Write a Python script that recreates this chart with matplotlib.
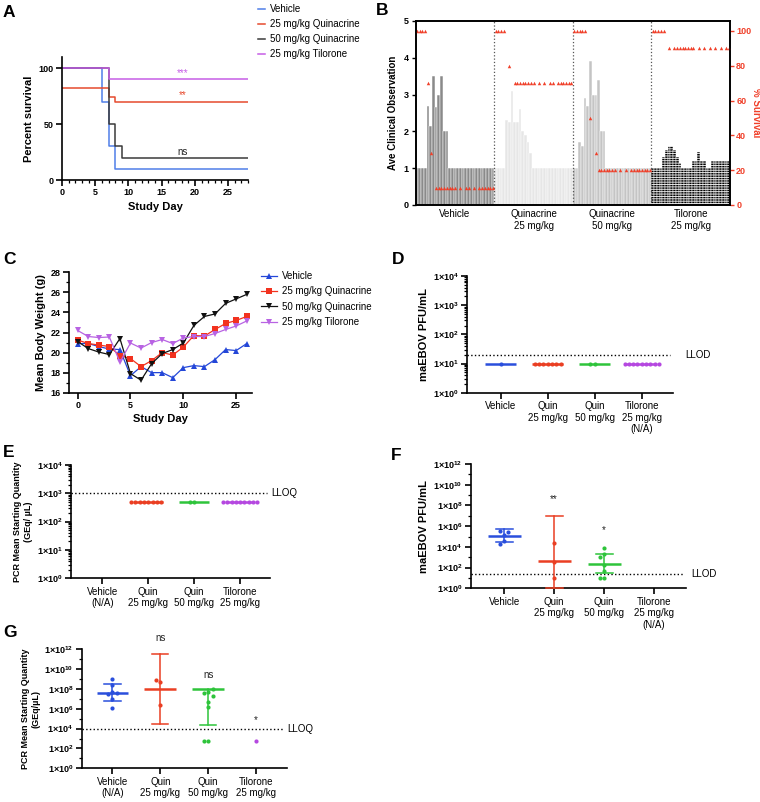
import numpy as np
import matplotlib
matplotlib.use("Agg")
import matplotlib.pyplot as plt
from matplotlib.ticker import MultipleLocator, FixedLocator, FuncFormatter, NullFormatter, LogLocator

nan = np.nan

plt.rcParams["font.family"] = ["Liberation Sans", "DejaVu Sans"]
plt.rcParams["mathtext.default"] = "regular"
plt.rcParams["axes.linewidth"] = 1.2
plt.rcParams["hatch.linewidth"] = 0.6

# ---------------- data ----------------
# A: Kaplan-Meier survival
a_groups = ["Vehicle", "25 mg/kg Quinacrine", "50 mg/kg Quinacrine", "25 mg/kg Tilorone"]
a_days = [[0, 6, 7, 8, 28], [0, 7, 8, 28], [0, 7, 8, 9, 28], [0, 7, 28]]
a_surv = [[100, 70, 30, 10, 10], [82, 74, 70, 70], [100, 50, 30, 20, 20], [100, 90, 90]]
a_marks = ["", "**", "ns", "***"]
a_mark_y = [nan, 76, 25, 96]

# B: clinical observation score (bars) and % survival (triangles), days 0-28
b_groups = ["Vehicle", "Quinacrine\n25 mg/kg", "Quinacrine\n50 mg/kg", "Tilorone\n25 mg/kg"]
b_clin_vehicle = [1, 1, 1, 1, 2.7, 2.15, 3.5, 2.65, 3.0, 3.5, 2.0, 2.0, 1, 1, 1, 1, 1, 1, 1, 1,
                  1, 1, 1, 1, 1, 1, 1, 1, 1]
b_clin_quin25 = [1, 1, 1, 1, 2.3, 2.25, 3.1, 2.25, 2.25, 2.6, 2.0, 1.9, 1.7, 1.4, 1, 1, 1, 1, 1, 1,
                 1, 1, 1, 1, 1, 1, 1, 1, 1]
b_clin_quin50 = [1, 1, 1.7, 1.6, 2.9, 2.7, 3.9, 3.0, 3.0, 3.4, 2.0, 2.0, 1, 1, 1, 1, 1, 1, 1, 1,
                 1, 1, 1, 1, 1, 1, 1, 1, 1]
b_clin_tilorone = [1, 1, 1, 1, 1.3, 1.5, 1.6, 1.6, 1.5, 1.3, 1.15, 1.0, 1.0, 1.0, 1.0, 1.2, 1.2,
                   1.45, 1.2, 1.2, 1.0, 1.0, 1.2, 1.2, 1.2, 1.2, 1.2, 1.2, 1.2]
b_surv_vehicle = [100, 100, 100, 100, 70, 30, nan, 10, 10, 10, 10, 10, 10, 10, 10, nan, 10, nan,
                  10, 10, nan, 10, nan, 10, 10, 10, 10, 10, 10]
b_surv_quin25 = [100, 100, 100, 100, nan, 80, nan, 70, 70, 70, 70, 70, 70, 70, 70, nan, 70, nan,
                 70, nan, 70, 70, nan, 70, 70, 70, 70, 70, 70]
b_surv_quin50 = [100, 100, 100, 100, 100, nan, 50, nan, 30, 20, 20, 20, 20, 20, 20, 20, nan, 20,
                 nan, 20, nan, 20, 20, 20, 20, 20, 20, 20, 20]
b_surv_tilorone = [100, 100, 100, 100, 100, nan, 90, nan, 90, 90, 90, 90, 90, 90, 90, 90, nan, 90,
                   nan, 90, nan, 90, nan, 90, nan, 90, nan, 90, 90]

# C: mean body weight
c_index = list(range(17))
c_tick_pos = [0, 5, 10, 15]
c_tick_labels = ["0", "5", "10", "25"]
c_vehicle = [20.9, 20.9, 20.6, 20.35, 20.3, 17.7, 18.6, 18.0, 18.0, 17.5, 18.5, 18.7, 18.6, 19.3,
             20.3, 20.2, 20.9]
c_quin25 = [21.25, 20.9, 20.75, 20.6, 19.7, 19.4, 18.6, 19.2, 20.0, 19.75, 20.55, 21.7, 21.65,
            22.3, 22.9, 23.2, 23.6]
c_quin50 = [21.1, 20.4, 20.05, 19.8, 21.4, 17.9, 17.25, 18.9, 19.9, 20.3, 20.95, 22.7, 23.6,
            23.85, 24.9, 25.35, 25.8]
c_tilorone = [22.2, 21.6, 21.5, 21.55, 19.05, 20.95, 20.45, 21.0, 21.3, 20.9, 21.45, 21.6, 21.6,
              21.9, 22.3, 22.65, 23.15]

# D: survivor plaque assay
d_labels = ["Vehicle", "Quin\n25 mg/kg", "Quin\n50 mg/kg", "Tilorone\n25 mg/kg\n(N/A)"]
d_vals = [[10], [10, 10, 10, 10, 10, 10, 10], [10, 10], [10, 10, 10, 10, 10, 10, 10, 10, 10]]
d_mean = [10, 10, 10, 10]
d_llod = 20

# E: survivor PCR
e_labels = ["Vehicle\n(N/A)", "Quin\n25 mg/kg", "Quin\n50 mg/kg", "Tilorone\n25 mg/kg"]
e_vals = [[], [500, 500, 500, 500, 500, 500, 500, 500], [500, 500],
          [500, 500, 500, 500, 500, 500, 500, 500, 500]]
e_mean = [nan, 500, 500, 500]
e_lloq = 1000

# F: plaque assay, moribund animals
f_labels = d_labels
f_vals = [[1.4e5, 3.4e5, 2.5e5, 4.0e4, 1.9e4], [2.5e4, 3.2e2, 9.0],
          [7.2e3, 1.9e3, 1.1e3, 1.8e2, 4.7e1, 9.3, 9.3], []]
f_mean = [1.1e5, 4.3e2, 2.4e2, nan]
f_low = [3.2e4, 1.0, 32, nan]
f_high = [4.9e5, 9.5e6, 2.0e3, nan]
f_llod = 22
f_marks = ["", "**", "*", ""]
f_mark_y = [nan, 4e8, 4.3e5, nan]

# G: PCR, moribund animals
g_labels = e_labels
g_vals = [[9.3e8, 2.5e8, 5.2e7, 3.1e7, 4.2e7, 9.8e6, 1.3e6], [4.7e8, 7.4e8, 2.2e6],
          [4.6e7, 4.3e7, 1.0e8, 1.9e7, 5.2e6, 1.5e6, 6.2e2, 6.2e2], [6.2e2]]
g_mean = [4.2e7, 9.3e7, 9.3e7, nan]
g_low = [5.8e6, 3.0e4, 2.3e4, nan]
g_high = [3.0e8, 3.2e11, 9.3e7, nan]
g_lloq = 8.5e3
g_marks = ["", "ns", "ns", "*"]
g_mark_y = [nan, 1.3e13, 2.5e9, 7.4e4]

# ---------------- styling ----------------
W, H = 760, 802
fig = plt.figure(figsize=(W / 100, H / 100), dpi=100)


def box(x0, y0, x1, y1):
    return [x0 / W, 1 - y1 / H, (x1 - x0) / W, (y1 - y0) / H]


def prism(ax):
    ax.spines["top"].set_visible(False)
    ax.spines["right"].set_visible(False)
    ax.tick_params(which="major", length=4, width=1.2, labelsize=6.5, pad=2)
    ax.tick_params(which="minor", length=2, width=0.9)
    for lab in ax.get_yticklabels() + ax.get_xticklabels():
        lab.set_fontweight("bold")


bold = dict(fontweight="bold")

# ---------------- A ----------------
a_colors = ["#4f7ee8", "#e64a2e", "#3a3a3a", "#c65ee6"]
axA = fig.add_axes(box(62, 57, 248, 180))
handles = []
for t, s, c, lab in zip(a_days, a_surv, a_colors, a_groups):
    h, = axA.step(t, s, where="post", color=c, lw=1.1, label=lab)
    handles.append(h)
for i, (m, y) in enumerate(zip(a_marks, a_mark_y)):
    if m:
        axA.text(18.2, y, m, color=a_colors[i] if m != "ns" else "#222", fontsize=7,
                 ha="center", va="center")
axA.set_xlim(0, 28)
axA.set_ylim(0, 110)
axA.xaxis.set_major_locator(MultipleLocator(5))
axA.xaxis.set_minor_locator(MultipleLocator(1))
axA.set_yticks([0, 50, 100])
prism(axA)
axA.set_xlabel("Study Day", fontsize=8, labelpad=3, **bold)
axA.set_ylabel("Percent survival", fontsize=8, labelpad=3, **bold)
axA.legend(handles=handles, loc="upper left", bbox_to_anchor=(258 / W, 1 - 4 / H),
           bbox_transform=fig.transFigure, frameon=False, fontsize=7, handlelength=0.7,
           handletextpad=0.5, labelspacing=0.52, borderpad=0, borderaxespad=0)

# ---------------- B ----------------
axB = fig.add_axes(box(415.7, 21, 730, 205))
axB2 = axB.twinx()
b_clin = [b_clin_vehicle, b_clin_quin25, b_clin_quin50, b_clin_tilorone]
b_surv = [b_surv_vehicle, b_surv_quin25, b_surv_quin50, b_surv_tilorone]
b_face = ["#8a8a8a", "#e6e6e6", "#c4c4c4", "black"]
b_hatch = [None, None, None, "-------"]
surv_red = "#f0402a"
n = len(b_clin_vehicle)
days = np.arange(n)
for g in range(4):
    axB.bar(g * n + days, b_clin[g], width=1.0, color=b_face[g], edgecolor="white",
            linewidth=0.35, hatch=b_hatch[g])
    axB2.plot(g * n + days, b_surv[g], "^", color=surv_red, ms=2.5, mew=0)
    if g > 0:
        axB.axvline(g * n - 0.5, color="#555555", ls=":", lw=0.9)
axB.set_xlim(-0.5, 4 * n - 0.5)
axB.set_ylim(0, 5)
axB2.set_ylim(0, 105.7)
axB.set_xticks([g * n + (n - 1) / 2 for g in range(4)])
axB.set_xticklabels(b_groups, fontsize=7)
axB.tick_params(axis="x", length=0, pad=3)
axB.tick_params(axis="y", length=3, width=1.0, labelsize=6.5, pad=2)
for lab in axB.get_yticklabels():
    lab.set_fontweight("bold")
axB2.set_yticks([0, 20, 40, 60, 80, 100])
axB2.tick_params(axis="y", length=3, width=1.0, colors=surv_red, labelsize=6.5, pad=1.5)
for lab in axB2.get_yticklabels():
    lab.set_fontweight("bold")
axB.set_ylabel("Ave Clinical Observation", fontsize=7, labelpad=4, **bold)
axB2.set_ylabel("% Survival", fontsize=7, color=surv_red, rotation=270, labelpad=7, **bold)

# ---------------- C ----------------
axC = fig.add_axes(box(69, 272.3, 251.7, 392.7))
c_series = [c_vehicle, c_quin25, c_quin50, c_tilorone]
c_colors = ["#2447d8", "#f2321f", "#111111", "#b863e3"]
c_markers = ["^", "s", "v", "v"]
c_ms = [3.8, 4.2, 3.8, 3.8]
ch = []
for ys, c, mk, ms, lab in zip(c_series, c_colors, c_markers, c_ms, a_groups):
    h, = axC.plot(c_index, ys, color=c, marker=mk, ms=ms, lw=0.9, mew=0, label=lab)
    ch.append(h)
axC.set_xlim(-0.82, 16.47)
axC.set_ylim(16, 28)
axC.set_xticks(c_tick_pos)
axC.set_xticklabels(c_tick_labels)
axC.yaxis.set_major_locator(MultipleLocator(2))
axC.yaxis.set_minor_locator(MultipleLocator(1))
prism(axC)
axC.set_xlabel("Study Day", fontsize=8, labelpad=3, **bold)
axC.set_ylabel("Mean Body Weight (g)", fontsize=8, labelpad=3, **bold)
axC.legend(handles=ch, loc="upper left", bbox_to_anchor=(261 / W, 1 - 271 / H),
           bbox_transform=fig.transFigure, frameon=False, fontsize=7, handlelength=1.6,
           handletextpad=0.6, labelspacing=0.55, borderpad=0, borderaxespad=0)

# ---------------- D-G dot plots ----------------
dot_colors = ["#2a4fdc", "#ea3f23", "#2ec43b", "#b548e0"]


def swarm(vals, ppd, upu, step=4.3, gap=4.0):
    ys = np.log10(np.asarray(vals, float)) * ppd
    placed, offs = [], []
    for y in ys:
        for k in [0, -1, 1, -2, 2, -3, 3, -4, 4, -5, 5]:
            x = k * step
            if all((x - px) ** 2 + (y - py) ** 2 >= gap ** 2 for px, py in placed):
                break
        placed.append((x, y))
        offs.append(x / upu)
    return np.array(offs)


def sci(v, pos):
    return "1×10$^{%d}$" % int(round(np.log10(v)))


def dot_panel(rect, top_exp, xlim, vals, means, lows, highs, labels, line_val, line_txt,
              txt_x, ylabel, ylab_size, every2):
    ax = fig.add_axes(box(*rect))
    ax.set_yscale("log")
    ax.set_ylim(1, 10 ** top_exp)
    ax.set_xlim(*xlim)
    ppd = (rect[3] - rect[1]) / top_exp
    upu = (rect[2] - rect[0]) / (xlim[1] - xlim[0])
    for i, c in enumerate(dot_colors):
        if len(vals[i]):
            ax.plot(i + swarm(vals[i], ppd, upu), vals[i], "o", color=c, ms=3, mew=0,
                    zorder=4, clip_on=False)
        if not np.isnan(means[i]):
            ax.plot([i - 0.33, i + 0.33], [means[i], means[i]], color=c, lw=1.8,
                    solid_capstyle="butt", zorder=3)
        if lows is not None and not np.isnan(lows[i]):
            ax.plot([i, i], [lows[i], highs[i]], color=c, lw=1.1, zorder=3, clip_on=False)
            for e in (lows[i], highs[i]):
                if e != means[i]:
                    ax.plot([i - 0.17, i + 0.17], [e, e], color=c, lw=1.1, zorder=3,
                            clip_on=False)
    ax.axhline(line_val, xmax=0.985, color="black", ls=":", lw=1.0)
    ax.text(txt_x, line_val, line_txt, transform=ax.get_yaxis_transform(), fontsize=7,
            ha="left", va="center")
    ax.set_xticks(range(4))
    ax.set_xticklabels(labels, fontsize=7)
    if every2:
        ax.yaxis.set_major_locator(FixedLocator([10.0 ** k for k in range(0, top_exp + 1, 2)]))
        ax.yaxis.set_minor_locator(FixedLocator([10.0 ** k for k in range(1, top_exp, 2)]))
    else:
        ax.yaxis.set_major_locator(LogLocator(base=10, numticks=20))
        ax.yaxis.set_minor_locator(LogLocator(base=10, subs=np.arange(2, 10), numticks=20))
    ax.yaxis.set_major_formatter(FuncFormatter(sci))
    ax.yaxis.set_minor_formatter(NullFormatter())
    ax.spines["top"].set_visible(False)
    ax.spines["right"].set_visible(False)
    ax.tick_params(which="major", length=4, width=1.2, pad=2)
    ax.tick_params(which="minor", length=2, width=0.9)
    ax.tick_params(axis="y", labelsize=6.5)
    for lab in ax.get_yticklabels():
        lab.set_fontweight("bold")
    ax.set_ylabel(ylabel, fontsize=ylab_size, labelpad=3, **bold)
    return ax


axD = dot_panel((467, 276, 672.7, 392.7), 4, (-0.72, 3.66), d_vals, d_mean, None, None,
                d_labels, d_llod, "LLOD", 1.06, "maEBOV PFU/mL", 8, False)
axE = dot_panel((71, 465, 270, 578.3), 4, (-0.68, 3.65), e_vals, e_mean, None, None,
                e_labels, e_lloq, "LLOQ", 1.005, "PCR Mean Starting Quantity\n(GEq/ µL)",
                6.5, False)
axF = dot_panel((470.7, 464, 686, 588.3), 12, (-0.67, 3.64), f_vals, f_mean, f_low, f_high,
                f_labels, f_llod, "LLOD", 1.026, "maEBOV PFU/mL", 8, True)
axG = dot_panel((81.7, 649.3, 287.3, 768.3), 12, (-0.64, 3.65), g_vals, g_mean, g_low, g_high,
                g_labels, g_lloq, "LLOQ", 1.0, "PCR Mean Starting Quantity\n(GEq/µL)",
                6.5, True)
for ax, marks, ys in [(axF, f_marks, f_mark_y), (axG, g_marks, g_mark_y)]:
    for i, (m, y) in enumerate(zip(marks, ys)):
        if m:
            ax.text(i, y, m, fontsize=7, ha="center", va="center", color="#222222")

# panel letters
for letter, x, y in [("A", 3, 5), ("B", 376, 3), ("C", 3, 252), ("D", 392, 252),
                     ("E", 3, 445), ("F", 391, 448), ("G", 3, 625)]:
    fig.text(x / W, 1 - y / H, letter, fontsize=12.5, fontweight="bold", ha="left", va="top")

fig.savefig("out.png", dpi=100)
